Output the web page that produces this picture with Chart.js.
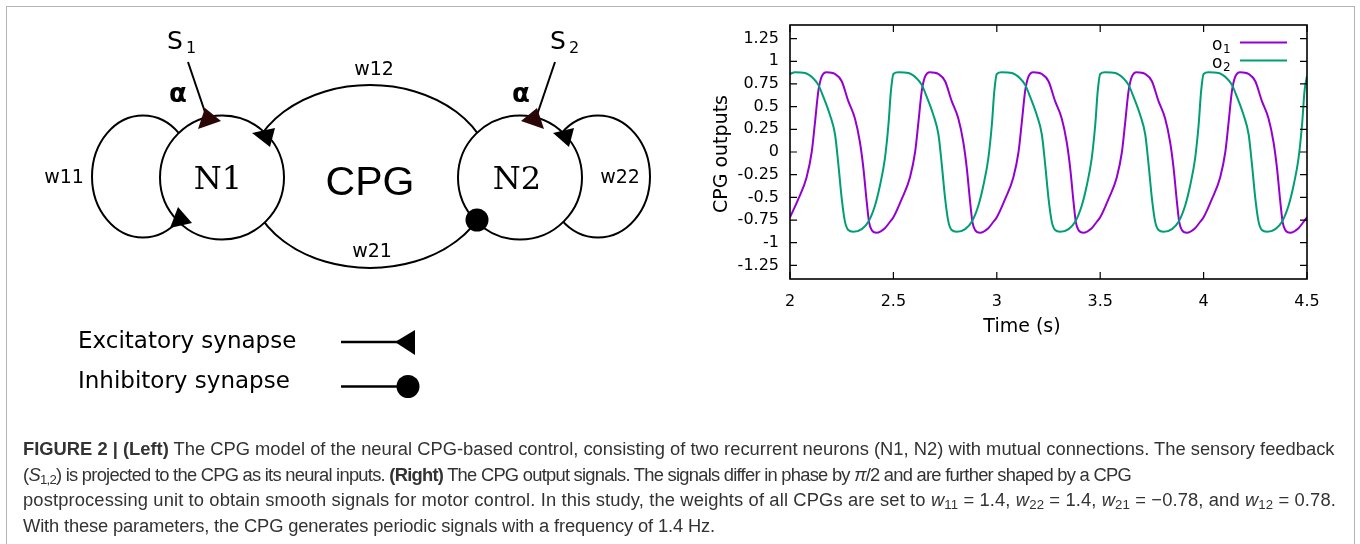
<!DOCTYPE html>
<html>
<head>
<meta charset="utf-8">
<script src="https://cdn.jsdelivr.net/npm/chart.js@4.4.1/dist/chart.umd.min.js"></script>
<style>
  body { margin: 0; background: #fff; }
  #fig { position: relative; width: 1360px; height: 544px; overflow: hidden; background: #fff; }
  #box { position: absolute; left: 6px; top: 6px; width: 1347px; height: 600px; border: 1px solid #b4b4b4; }
  #cpgChart { position: absolute; left: 700px; top: 20px; }
  #overlay { position: absolute; left: 0; top: 0; pointer-events: none; }
  #caption { position: absolute; left: 23px; top: 436px; font-family: "Liberation Sans", Arial, sans-serif;
             font-size: 17px; line-height: 25.6px; color: #333; white-space: nowrap; }
  #caption > div { display: table; }
  #caption .s { font-size: 0.72em; vertical-align: -0.25em; line-height: 0; }
</style>
</head>
<body>
<div id="fig">
  <div id="box"></div>
  <canvas id="cpgChart" width="630" height="320"></canvas>

  <svg id="overlay" width="1360" height="544" font-family="DejaVu Sans">
    <!-- CPG model diagram -->
    <g fill="none" stroke="#000" stroke-width="2">
      <ellipse cx="143" cy="176.5" rx="51" ry="61"/>
      <ellipse cx="598" cy="176.5" rx="52" ry="61"/>
      <ellipse cx="370" cy="176.5" rx="122" ry="91.5"/>
      <line x1="188" y1="62" x2="207" y2="118"/>
      <line x1="555" y1="62" x2="536" y2="118"/>
    </g>
    <circle cx="222" cy="177.5" r="62" fill="#fff" stroke="#000" stroke-width="2"/>
    <circle cx="520" cy="177.5" r="62" fill="#fff" stroke="#000" stroke-width="2"/>
    <polygon points="205,108 198,129 221,121" fill="#2a0606"/>
    <polygon points="537,108 544,129 521,121" fill="#2a0606"/>
    <polygon points="252,133 275,128 270,147" fill="#000"/>
    <polygon points="553,133 574,128 569,147" fill="#000"/>
    <polygon points="178,207 170,228 192,223" fill="#000"/>
    <circle cx="477" cy="220" r="11.5" fill="#000"/>

    <text x="167" y="49" font-size="25">S</text>
    <text x="186" y="53" font-size="16">1</text>
    <text x="550" y="49" font-size="25">S</text>
    <text x="569" y="53" font-size="16">2</text>
    <text x="169" y="102" font-size="26" font-weight="bold">α</text>
    <text x="512" y="102" font-size="26" font-weight="bold">α</text>
    <text x="374" y="75" font-size="19" text-anchor="middle">w12</text>
    <text x="372" y="257" font-size="19" text-anchor="middle">w21</text>
    <text x="64" y="183" font-size="19" text-anchor="middle">w11</text>
    <text x="620" y="183" font-size="19" text-anchor="middle">w22</text>
    <text x="218" y="189" font-size="32" font-family="DejaVu Serif" text-anchor="middle">N1</text>
    <text x="517" y="189" font-size="32" font-family="DejaVu Serif" text-anchor="middle">N2</text>
    <text x="370" y="195" font-size="41" font-family="Liberation Sans" text-anchor="middle">CPG</text>

    <text x="78" y="348" font-size="23">Excitatory synapse</text>
    <line x1="341" y1="342" x2="400" y2="342" stroke="#000" stroke-width="2.5"/>
    <polygon points="395,342 415,330 415,355" fill="#000"/>
    <text x="78" y="388" font-size="23">Inhibitory synapse</text>
    <line x1="341" y1="386.5" x2="405" y2="386.5" stroke="#000" stroke-width="2.5"/>
    <circle cx="408" cy="386.5" r="11.5" fill="#000"/>

    <!-- chart legend and axis titles -->
    <text x="1212" y="50" font-size="17">o</text>
    <text x="1223" y="53" font-size="12">1</text>
    <text x="1212" y="68" font-size="17">o</text>
    <text x="1223" y="71" font-size="12">2</text>
    <line id="legO1" x1="1240" y1="42.5" x2="1287" y2="42.5" stroke-width="2"/>
    <line id="legO2" x1="1240" y1="60.5" x2="1287" y2="60.5" stroke-width="2"/>
    <text x="1022" y="332" font-size="19" text-anchor="middle">Time (s)</text>
    <text transform="translate(727,154) rotate(-90)" font-size="19" text-anchor="middle">CPG outputs</text>
  </svg>

  <div id="caption">
    <div id="capLine1" data-right="1335"><b>FIGURE 2 | (Left)</b> The CPG model of the neural CPG-based control, consisting of two recurrent neurons (N1, N2) with mutual connections. The sensory feedback</div>
    <div data-right="1131">(<i>S</i><span class="s">1,2</span>) is projected to the CPG as its neural inputs. <b>(Right)</b> The CPG output signals. The signals differ in phase by <i>π</i>/2 and are further shaped by a CPG</div>
    <div data-right="1336">postprocessing unit to obtain smooth signals for motor control. In this study, the weights of all CPGs are set to <i>w</i><span class="s">11</span> = 1.4, <i>w</i><span class="s">22</span> = 1.4, <i>w</i><span class="s">21</span> = −0.78, and <i>w</i><span class="s">12</span> = 0.78.</div>
    <div data-right="715">With these parameters, the CPG generates periodic signals with a frequency of 1.4 Hz.</div>
  </div>
</div>

<script>
const xTicks = [2, 2.5, 3, 3.5, 4, 4.5];
const yTicks = [-1.25, -1, -0.75, -0.5, -0.25, 0, 0.25, 0.5, 0.75, 1, 1.25];

// o1 (purple)
const timeO1 = [
  2.000, 2.040, 2.080, 2.105, 2.121, 2.137, 2.153, 2.177, 2.218, 2.250, 2.282, 2.314, 2.338, 2.355, 2.371, 2.382, 2.395, 2.419, 2.459, 2.480,
  2.500, 2.540, 2.580, 2.605, 2.621, 2.637, 2.653, 2.677, 2.718, 2.750, 2.782, 2.814, 2.838, 2.855, 2.871, 2.882, 2.895, 2.919, 2.959, 2.980,
  3.000, 3.040, 3.080, 3.105, 3.121, 3.137, 3.153, 3.177, 3.218, 3.250, 3.282, 3.314, 3.338, 3.355, 3.371, 3.382, 3.395, 3.419, 3.459, 3.480,
  3.500, 3.540, 3.580, 3.605, 3.621, 3.637, 3.653, 3.677, 3.718, 3.750, 3.782, 3.814, 3.838, 3.855, 3.871, 3.882, 3.895, 3.919, 3.959, 3.980,
  4.000, 4.040, 4.080, 4.105, 4.121, 4.137, 4.153, 4.177, 4.218, 4.250, 4.282, 4.314, 4.338, 4.355, 4.371, 4.382, 4.395, 4.419, 4.459, 4.480,
  4.500
];
const o1 = [
  -0.72, -0.52, -0.28, 0.00, 0.33, 0.67, 0.83, 0.88, 0.86, 0.78, 0.56, 0.37, 0.11, -0.18, -0.55, -0.77, -0.86, -0.89, -0.84, -0.78,
  -0.72, -0.52, -0.28, 0.00, 0.33, 0.67, 0.83, 0.88, 0.86, 0.78, 0.56, 0.37, 0.11, -0.18, -0.55, -0.77, -0.86, -0.89, -0.84, -0.78,
  -0.72, -0.52, -0.28, 0.00, 0.33, 0.67, 0.83, 0.88, 0.86, 0.78, 0.56, 0.37, 0.11, -0.18, -0.55, -0.77, -0.86, -0.89, -0.84, -0.78,
  -0.72, -0.52, -0.28, 0.00, 0.33, 0.67, 0.83, 0.88, 0.86, 0.78, 0.56, 0.37, 0.11, -0.18, -0.55, -0.77, -0.86, -0.89, -0.84, -0.78,
  -0.72, -0.52, -0.28, 0.00, 0.33, 0.67, 0.83, 0.88, 0.86, 0.78, 0.56, 0.37, 0.11, -0.18, -0.55, -0.77, -0.86, -0.89, -0.84, -0.78,
  -0.72
];

// o2 (green)
const timeO2 = [
  2.000, 2.024, 2.073, 2.113, 2.137, 2.161, 2.193, 2.218, 2.234, 2.250, 2.266, 2.282, 2.306, 2.347, 2.379, 2.411, 2.435, 2.459, 2.476, 2.488,
  2.500, 2.524, 2.573, 2.613, 2.637, 2.661, 2.693, 2.718, 2.734, 2.750, 2.766, 2.782, 2.806, 2.847, 2.879, 2.911, 2.935, 2.959, 2.976, 2.988,
  3.000, 3.024, 3.073, 3.113, 3.137, 3.161, 3.193, 3.218, 3.234, 3.250, 3.266, 3.282, 3.306, 3.347, 3.379, 3.411, 3.435, 3.459, 3.476, 3.488,
  3.500, 3.524, 3.573, 3.613, 3.637, 3.661, 3.693, 3.718, 3.734, 3.750, 3.766, 3.782, 3.806, 3.847, 3.879, 3.911, 3.935, 3.959, 3.976, 3.988,
  4.000, 4.024, 4.073, 4.113, 4.137, 4.161, 4.193, 4.218, 4.234, 4.250, 4.266, 4.282, 4.306, 4.347, 4.379, 4.411, 4.435, 4.459, 4.476, 4.488,
  4.500
];
const o2 = [
  0.86, 0.88, 0.87, 0.81, 0.74, 0.61, 0.41, 0.19, -0.14, -0.51, -0.77, -0.86, -0.88, -0.85, -0.77, -0.59, -0.37, -0.07, 0.30, 0.67,
  0.86, 0.88, 0.87, 0.81, 0.74, 0.61, 0.41, 0.19, -0.14, -0.51, -0.77, -0.86, -0.88, -0.85, -0.77, -0.59, -0.37, -0.07, 0.30, 0.67,
  0.86, 0.88, 0.87, 0.81, 0.74, 0.61, 0.41, 0.19, -0.14, -0.51, -0.77, -0.86, -0.88, -0.85, -0.77, -0.59, -0.37, -0.07, 0.30, 0.67,
  0.86, 0.88, 0.87, 0.81, 0.74, 0.61, 0.41, 0.19, -0.14, -0.51, -0.77, -0.86, -0.88, -0.85, -0.77, -0.59, -0.37, -0.07, 0.30, 0.67,
  0.86, 0.88, 0.87, 0.81, 0.74, 0.61, 0.41, 0.19, -0.14, -0.51, -0.77, -0.86, -0.88, -0.85, -0.77, -0.59, -0.37, -0.07, 0.30, 0.67,
  0.84
];

const purple = '#9400d3';
const green = '#009e73';
document.getElementById('legO1').setAttribute('stroke', purple);
document.getElementById('legO2').setAttribute('stroke', green);

// gnuplot-like frame with inward ticks on all four sides
const frameTicks = {
  id: 'frameTicks',
  afterDraw(chart) {
    const { ctx, chartArea: a, scales: { x, y } } = chart;
    ctx.save();
    ctx.strokeStyle = '#000';
    ctx.lineWidth = 1.6;
    ctx.strokeRect(a.left, a.top, a.right - a.left, a.bottom - a.top);
    ctx.lineWidth = 1.2;
    ctx.beginPath();
    x.ticks.forEach(t => {
      const px = x.getPixelForValue(t.value);
      ctx.moveTo(px, a.bottom); ctx.lineTo(px, a.bottom - 7);
      ctx.moveTo(px, a.top); ctx.lineTo(px, a.top + 7);
    });
    y.ticks.forEach(t => {
      const py = y.getPixelForValue(t.value);
      ctx.moveTo(a.left, py); ctx.lineTo(a.left + 7, py);
      ctx.moveTo(a.right, py); ctx.lineTo(a.right - 7, py);
    });
    ctx.stroke();
    ctx.restore();
  }
};

const tickFont = { family: 'DejaVu Sans', size: 16 };

new Chart(document.getElementById('cpgChart'), {
  type: 'line',
  data: {
    datasets: [
      { label: 'o2', data: timeO2.map((t, i) => ({ x: t, y: o2[i] })), borderColor: green, borderWidth: 2,
        pointRadius: 0, cubicInterpolationMode: 'monotone', fill: false },
      { label: 'o1', data: timeO1.map((t, i) => ({ x: t, y: o1[i] })), borderColor: purple, borderWidth: 2,
        pointRadius: 0, cubicInterpolationMode: 'monotone', fill: false }
    ]
  },
  options: {
    responsive: false,
    animation: false,
    layout: { padding: { top: 5, right: 23, left: 0, bottom: 0 } },
    plugins: { legend: { display: false }, tooltip: { enabled: false } },
    scales: {
      x: {
        type: 'linear', min: 2, max: 4.5,
        afterBuildTicks: s => { s.ticks = xTicks.map(v => ({ value: v })); },
        afterFit: s => { s.height = 61; s.paddingLeft = 0; s.paddingRight = 0; },
        grid: { display: false, drawTicks: false },
        border: { display: false },
        ticks: { padding: 13, color: '#000', font: tickFont, maxRotation: 0, autoSkip: false, callback: v => String(v) }
      },
      y: {
        type: 'linear', min: -1.4, max: 1.4,
        afterBuildTicks: s => { s.ticks = yTicks.map(v => ({ value: v })); },
        afterFit: s => { s.width = 90; s.paddingTop = 0; s.paddingBottom = 0; },
        grid: { display: false, drawTicks: false },
        border: { display: false },
        ticks: { padding: 11, color: '#000', font: tickFont, autoSkip: false, callback: v => String(v) }
      }
    }
  },
  plugins: [frameTicks]
});

// size the caption on its first line, then nudge the other lines to end where the figure's lines end
function fitCaption() {
  const cap = document.getElementById('caption');
  const first = document.getElementById('capLine1');
  const size = parseFloat(getComputedStyle(cap).fontSize);
  cap.style.fontSize = (size * (1335 - 23) / first.getBoundingClientRect().width).toFixed(2) + 'px';
  document.querySelectorAll('#caption > div').forEach(line => {
    if (line === first) return;
    const target = parseFloat(line.dataset.right) - 23;
    const n = line.textContent.length;
    for (let k = 0; k < 2; k++) {
      const w = line.getBoundingClientRect().width;
      const ls = parseFloat(line.style.letterSpacing || '0');
      line.style.letterSpacing = (ls + (target - w) / n).toFixed(3) + 'px';
    }
  });
}
fitCaption();
</script>
</body>
</html>
